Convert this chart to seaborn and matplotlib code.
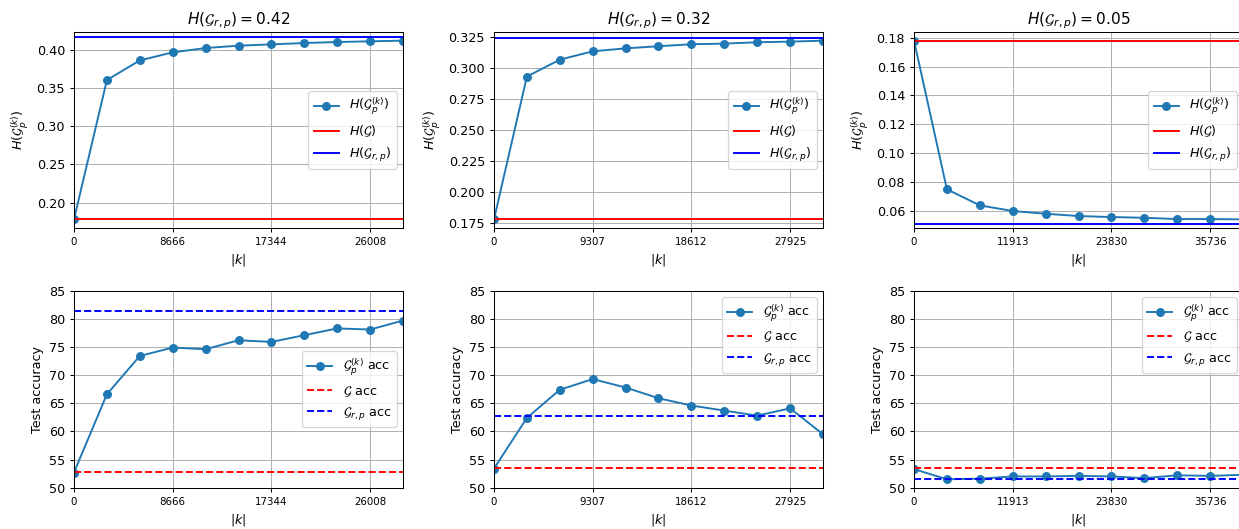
import numpy as np
import matplotlib
matplotlib.use("Agg")
import matplotlib.pyplot as plt
import seaborn as sns

# ---- data ----
titles = [r"$H(\mathcal{G}_{r,p}) = 0.42$", r"$H(\mathcal{G}_{r,p}) = 0.32$", r"$H(\mathcal{G}_{r,p}) = 0.05$"]

k1 = [0, 2889, 5778, 8666, 11555, 14450, 17344, 20232, 23120, 26008, 28897]
k2 = [0, 3102, 6204, 9307, 12409, 15511, 18612, 21714, 24817, 27925, 31027]
k3 = [0, 3971, 7942, 11913, 15884, 19855, 23830, 27801, 31772, 35736, 39707]

hom1 = [0.178, 0.3606, 0.3864, 0.3969, 0.4026, 0.4057, 0.4074, 0.4092, 0.4105, 0.4114, 0.4123]
hom2 = [0.178, 0.2928, 0.3064, 0.3131, 0.3155, 0.3172, 0.3188, 0.3193, 0.3204, 0.3209, 0.3217]
hom3 = [0.178, 0.0749, 0.0637, 0.0598, 0.0579, 0.0563, 0.0556, 0.0551, 0.0542, 0.0542, 0.0540]

h_G = [0.178, 0.178, 0.178]
h_Grp = [0.4175, 0.3239, 0.0509]

acc1 = [52.7, 66.6, 73.4, 74.9, 74.6, 76.2, 75.9, 77.1, 78.3, 78.1, 79.7]
acc2 = [53.4, 62.4, 67.4, 69.3, 67.8, 65.9, 64.6, 63.7, 62.8, 64.1, 59.5]
acc3 = [53.3, 51.5, 51.6, 52.0, 52.0, 52.1, 52.0, 51.7, 52.2, 52.1, 52.3]

acc_G = [52.75, 53.5, 53.5]
acc_Grp = [81.45, 62.7, 51.6]

ks = [k1, k2, k3]
homs = [hom1, hom2, hom3]
accs = [acc1, acc2, acc3]
acc_legend_loc = ["center right", "upper right", "upper right"]

# ---- figure ----
DPI = 92
fig = plt.figure(figsize=(1239 / DPI, 529 / DPI), dpi=DPI)
W, H = 1239.0, 529.0
lefts = [74, 494, 914]
aw = 329
top_row = (31.7, 228.3)
bot_row = (290.7, 487.7)

blue_line = "#1f77b4"

for i in range(3):
    x = ks[i]
    # top row: homophily
    ax = fig.add_axes([lefts[i] / W, 1 - top_row[1] / H, aw / W, (top_row[1] - top_row[0]) / H])
    sns.lineplot(x=x, y=homs[i], ax=ax, marker="o", color=blue_line,
                 markeredgecolor=blue_line, markeredgewidth=1, markersize=6,
                 linewidth=1.5, label=r"$H(\mathcal{G}_p^{(k)})$")
    ax.set_ylim(ax.get_ylim())
    ax.axhline(h_G[i], color="red", linewidth=1.5, label=r"$H(\mathcal{G})$")
    ax.axhline(h_Grp[i], color="blue", linewidth=1.5, label=r"$H(\mathcal{G}_{r,p})$")
    ax.set_xlim(x[0], x[-1])
    ax.set_xticks(x[::3])
    ax.tick_params(axis="x", labelsize=8)
    ax.tick_params(axis="y", labelsize=10)
    ax.grid(True)
    ax.set_title(titles[i], fontsize=12)
    ax.set_xlabel(r"$|k|$", fontsize=10)
    ax.set_ylabel(r"$H(\mathcal{G}_p^{(k)})$", fontsize=10)
    ax.legend(loc="center right", fontsize=10)

    # bottom row: accuracy
    ax = fig.add_axes([lefts[i] / W, 1 - bot_row[1] / H, aw / W, (bot_row[1] - bot_row[0]) / H])
    sns.lineplot(x=x, y=accs[i], ax=ax, marker="o", color=blue_line,
                 markeredgecolor=blue_line, markeredgewidth=1, markersize=6,
                 linewidth=1.5, label=r"$\mathcal{G}_p^{(k)}$ acc")
    ax.axhline(acc_G[i], color="red", linestyle="--", linewidth=1.5, label=r"$\mathcal{G}$ acc")
    ax.axhline(acc_Grp[i], color="blue", linestyle="--", linewidth=1.5, label=r"$\mathcal{G}_{r,p}$ acc")
    ax.set_ylim(50, 85)
    ax.set_xlim(x[0], x[-1])
    ax.set_xticks(x[::3])
    ax.tick_params(axis="x", labelsize=8)
    ax.tick_params(axis="y", labelsize=10)
    ax.grid(True)
    ax.set_xlabel(r"$|k|$", fontsize=10)
    ax.set_ylabel("Test accuracy", fontsize=10)
    ax.legend(loc=acc_legend_loc[i], fontsize=10)

fig.savefig("out.png", dpi=DPI)
